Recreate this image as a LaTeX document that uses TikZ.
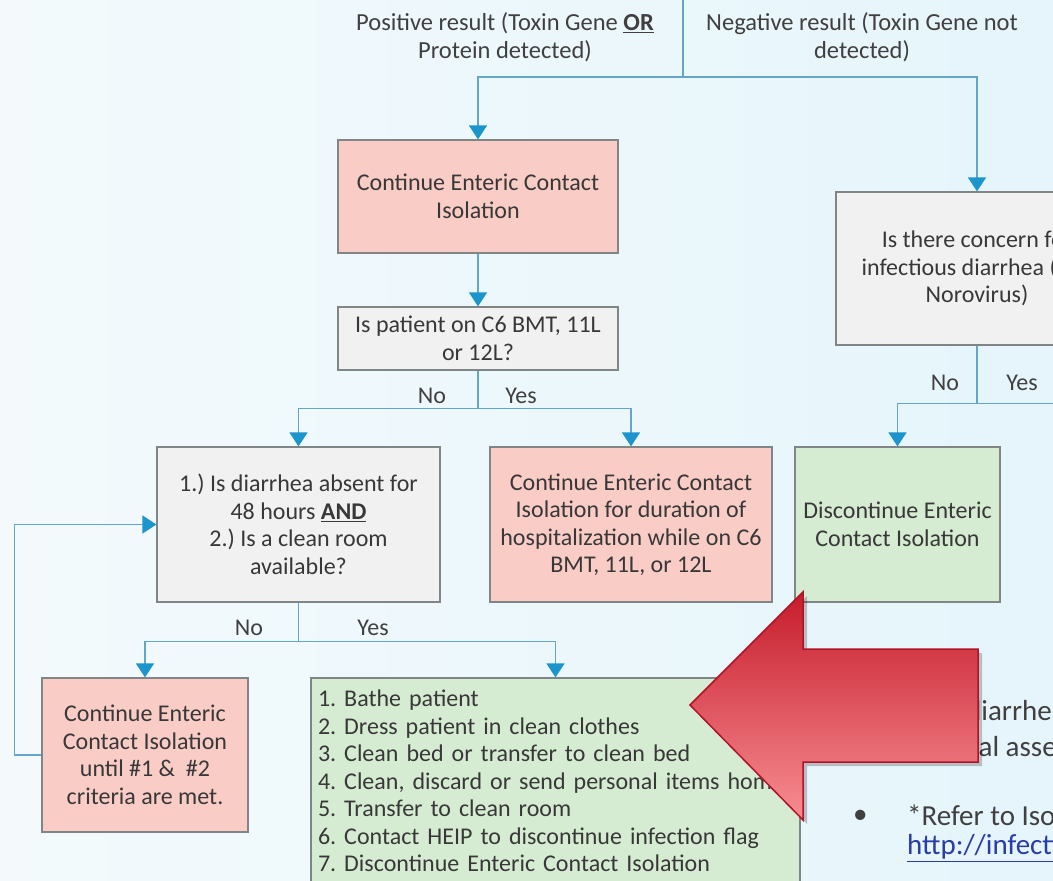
\documentclass[tikz,border=0pt]{standalone}
\usepackage{fontspec}
\setmainfont{Carlito}
\usetikzlibrary{arrows.meta,positioning,calc}
\frenchspacing

\definecolor{bgleft}{RGB}{244,250,252}
\definecolor{bgright}{RGB}{229,245,251}
\definecolor{flowblue}{RGB}{100,166,202}
\definecolor{tipblue}{RGB}{28,148,204}
\definecolor{pinkfill}{RGB}{249,204,198}
\definecolor{greyfill}{RGB}{241,241,241}
\definecolor{greenfill}{RGB}{214,236,210}
\definecolor{boxline}{RGB}{128,134,134}
\definecolor{arrowtop}{RGB}{198,28,44}
\definecolor{arrowbot}{RGB}{247,142,146}
\definecolor{arrowline}{RGB}{178,18,38}
\definecolor{linkblue}{RGB}{40,60,170}

\begin{document}
\begin{tikzpicture}[x=1pt,y=-1pt,
    box/.style={draw=boxline,line width=1.2pt,inner sep=0pt,align=center,text=black!78,
        font=\fontsize{24}{27.5}\selectfont},
    pinkbox/.style={box,fill=pinkfill},
    greybox/.style={box,fill=greyfill},
    greenbox/.style={box,fill=greenfill},
    flow/.style={draw=flowblue,line width=1.3pt},
    flowarrow/.style={flow,-{Triangle[width=18pt,length=14pt,color=tipblue]}},
    toplabel/.style={text=black!75,align=center,inner sep=0pt,font=\fontsize{24.5}{28}\selectfont},
    branchlabel/.style={text=black!75,inner sep=0pt,font=\fontsize{24}{28}\selectfont},
    sidetext/.style={text=black!75,anchor=west,inner sep=0pt,font=\fontsize{29}{35}\selectfont}]

    \useasboundingbox (0,0) rectangle (1053,881);
    \clip (0,0) rectangle (1053,881);
    \shade [left color=bgleft,right color=bgright] (0,0) rectangle (1053,881);

    \node [toplabel] (pos) at (505,37) {Positive result (Toxin Gene \underline{\textbf{OR}}\\Protein detected)};
    \node [toplabel] (neg) at (862,37) {Negative result (Toxin Gene not\\detected)};

    \node [pinkbox,minimum width=280pt,minimum height=113pt] (iso) at (478,196.5) {Continue Enteric Contact\\Isolation};
    \node [greybox,minimum width=280pt,minimum height=63pt] (unit) at (478,338.5) {Is patient on C6 BMT, 11L\\or 12L?};
    \node [greybox,minimum width=283pt,minimum height=155pt] (absent) at (298.5,524.5) {1.) Is diarrhea absent for\\48 hours \underline{\textbf{AND}}\\2.) Is a clean room\\available?};
    \node [pinkbox,minimum width=282pt,minimum height=155pt] (stay) at (631,524.5) {Continue Enteric Contact\\Isolation for duration of\\hospitalization while on C6\\BMT, 11L, or 12L};
    \node [pinkbox,minimum width=206pt,minimum height=154pt] (until) at (145,755) {Continue Enteric\\Contact Isolation\\until \#1 \& \ \#2\\criteria are met.};
    \node [greenbox,align=left,text width=475pt,minimum width=489pt,minimum height=206pt] (steps) at (555.5,781) {1. Bathe patient\\2. Dress patient in clean clothes\\3. Clean bed or transfer to clean bed\\4. Clean, discard or send personal items home\\5. Transfer to clean room\\6. Contact HEIP to discontinue infection flag\\7. Discontinue Enteric Contact Isolation};
    \node [greybox,minimum width=282pt,minimum height=153pt] (concern) at (977,268.5) {Is there concern for\\infectious diarrhea (e.g.\\Norovirus)};
    \node [greenbox,minimum width=205pt,minimum height=155pt] (stop) at (897.5,524.5) {Discontinue Enteric\\Contact Isolation};

    % connectors
    \draw [flow] (683,0) coordinate (feed) -- (683,77) coordinate (fork1);
    \draw [flowarrow] (fork1) -| (iso.north);
    \draw [flowarrow] (fork1) -| (concern.north);
    \draw [flowarrow] (iso) -- (unit);

    \draw [flow] (unit.south) -- ++(0,38) coordinate (fork2);
    \foreach \b in {absent,stay}
        \draw [flowarrow] (fork2) -| (\b.north);

    \draw [flow] (absent.south) -- ++(0,39) coordinate (fork3);
    \foreach \b in {until,steps}
        \draw [flowarrow] (fork3) -| (\b.north);
    \draw [flowarrow] (until.west) -- ++(-27,0) |- (absent.west);

    \draw [flow] (concern.south) -- ++(0,58) coordinate (fork4);
    \draw [flowarrow] (fork4) -| (stop.north);
    \draw [flow] (fork4) -- ++(100,0) coordinate (offpage);

    \node [branchlabel] (no1) at (432,396) {No};
    \node [branchlabel] (yes1) at (521,396) {Yes};
    \node [branchlabel] (no2) at (249,628) {No};
    \node [branchlabel] (yes2) at (373,628) {Yes};
    \node [branchlabel] (no3) at (945,383) {No};
    \node [branchlabel] (yes3) at (1022,383) {Yes};

    % notes on the right, partly under the arrow
    \node [sidetext] (note1) at (966,711) {diarrhea};
    \node [sidetext] (note2) at (919,747) {clinical assessment};
    \node [sidetext] (dot) at (853,817) {\textbullet};
    \node [sidetext] (refer) at (907,815) {*Refer to Isolation};
    \node [sidetext,text=linkblue] (link) at (907,848) {\underline{http://infection}};

    % big red arrow
    \fill [black,opacity=0.22] (694,709) -- (807,596) -- (807,653) -- (982,653) -- (982,766) -- (807,766) -- (807,824) -- cycle;
    \shadedraw [top color=arrowtop,bottom color=arrowbot,draw=arrowline,line width=1.5pt]
        (690,705) -- (803,592) -- (803,649) -- (978,649) -- (978,762) -- (803,762) -- (803,820) -- cycle;
\end{tikzpicture}
\end{document}
